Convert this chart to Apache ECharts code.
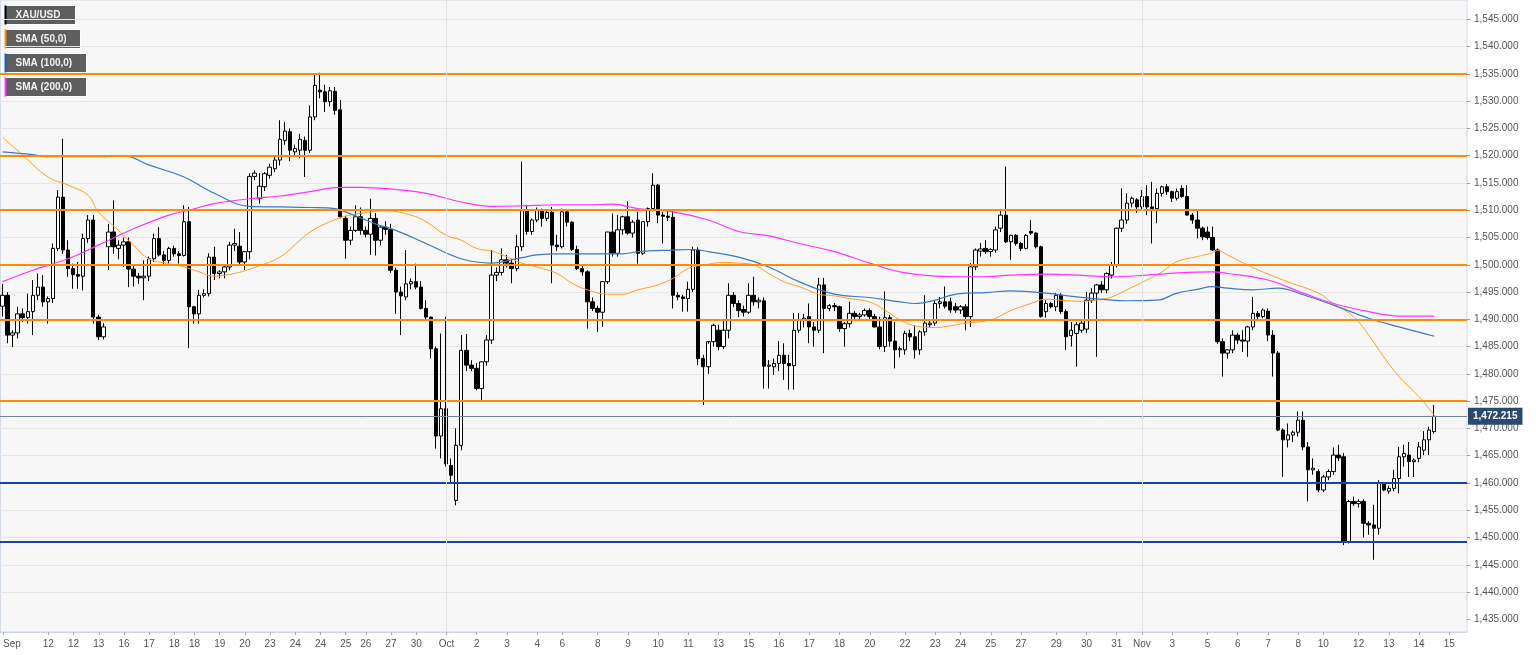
<!DOCTYPE html>
<html><head><meta charset="utf-8">
<script src="https://cdn.jsdelivr.net/npm/echarts@6/dist/echarts.min.js"></script>
<style>html,body{margin:0;padding:0;background:#fff;width:1536px;height:655px;overflow:hidden;position:relative}#c{position:absolute;left:0;top:-8px;width:1536px;height:663px}</style>
</head><body><div id="c"></div>
<script>
// ---------------- DATA ----------------
const openP = [1492.4,1494.4,1487.1,1487.5,1491.0,1490.3,1491.4,1494.4,1495.9,1493.2,1493.8,1503.0,1512.4,1502.7,1499.3,1498.2,1497.9,1504.8,1508.2,1490.4,1486.8,1503.3,1506.0,1503.0,1503.6,1504.2,1499.2,1497.9,1497.6,1497.9,1501.1,1504.8,1501.8,1500.8,1503.0,1502.0,1501.7,1507.9,1492.3,1491.0,1494.4,1494.7,1501.4,1498.4,1498.7,1499.6,1503.6,1503.4,1500.5,1502.4,1516.2,1512.1,1514.3,1516.4,1517.6,1519.2,1522.8,1524.4,1520.7,1521.0,1522.8,1521.0,1527.1,1532.0,1531.7,1529.9,1531.8,1528.4,1508.5,1504.5,1506.3,1508.8,1506.3,1505.6,1508.5,1504.5,1506.9,1506.5,1499.0,1495.0,1494.1,1496.5,1496.9,1495.9,1492.0,1490.4,1484.6,1468.6,1473.6,1463.2,1456.8,1466.9,1484.3,1481.6,1481.0,1477.3,1482.2,1486.2,1498.1,1498.6,1500.9,1500.3,1499.3,1503.3,1510.0,1506.1,1508.2,1510.0,1508.5,1509.6,1503.6,1503.3,1509.7,1507.8,1502.8,1499.3,1498.7,1493.2,1492.0,1491.3,1496.9,1506.0,1502.1,1506.4,1508.8,1505.8,1508.2,1502.1,1507.9,1510.3,1514.6,1509.1,1508.9,1508.7,1494.4,1494.1,1493.8,1495.5,1502.7,1482.8,1481.3,1485.9,1488.0,1485.0,1488.0,1494.4,1492.9,1491.8,1491.3,1494.4,1493.2,1493.4,1481.4,1481.3,1481.9,1483.4,1481.9,1481.5,1488.0,1489.9,1490.5,1488.6,1488.0,1496.3,1492.0,1492.5,1492.3,1488.3,1489.2,1491.1,1490.5,1490.8,1491.6,1490.5,1488.6,1485.0,1490.3,1486.0,1484.4,1484.4,1487.4,1486.8,1484.4,1487.7,1489.0,1489.3,1492.9,1493.2,1493.2,1492.3,1491.7,1492.3,1490.5,1499.6,1502.5,1503.0,1502.4,1502.7,1506.7,1509.1,1504.2,1505.4,1503.9,1503.0,1506.1,1505.8,1503.3,1491.4,1492.9,1492.3,1494.4,1491.4,1487.0,1487.4,1488.0,1488.2,1493.5,1494.8,1496.3,1495.4,1498.1,1499.9,1506.7,1508.2,1511.3,1511.9,1510.6,1512.5,1510.6,1510.3,1513.1,1514.3,1513.4,1512.2,1514.0,1512.5,1509.1,1508.2,1506.7,1506.0,1505.0,1502.7,1485.9,1483.8,1484.4,1487.1,1486.2,1486.0,1488.6,1491.1,1490.5,1491.5,1487.1,1483.8,1469.7,1467.9,1468.8,1469.3,1471.5,1466.6,1462.4,1462.1,1458.7,1461.1,1462.1,1465.1,1464.8,1449.2,1456.6,1456.2,1456.6,1452.6,1452.3,1451.7,1459.9,1458.5,1459.0,1460.8,1464.8,1465.1,1463.9,1464.5,1466.0,1467.9,1469.4];
const highP = [1496.5,1495.0,1488.0,1492.3,1492.0,1494.7,1497.2,1498.4,1498.1,1494.2,1503.9,1513.7,1523.1,1504.5,1500.2,1500.5,1505.7,1509.1,1509.1,1490.8,1489.3,1507.5,1511.8,1504.5,1505.0,1505.0,1500.0,1498.5,1500.8,1501.5,1505.7,1506.9,1502.5,1503.3,1503.5,1502.5,1510.9,1510.6,1492.5,1495.4,1495.5,1502.1,1503.3,1499.0,1500.0,1504.2,1506.6,1506.0,1502.5,1516.8,1517.3,1516.8,1517.0,1518.5,1520.0,1526.5,1526.2,1525.0,1522.0,1524.0,1523.5,1529.2,1535.1,1535.2,1533.0,1532.6,1532.6,1530.2,1509.0,1507.0,1510.9,1510.5,1507.0,1512.1,1509.5,1507.2,1508.0,1507.5,1499.5,1496.0,1502.7,1497.5,1500.2,1497.0,1493.5,1490.5,1485.0,1487.4,1490.5,1464.5,1470.0,1487.1,1487.3,1482.5,1482.0,1482.3,1487.1,1502.7,1499.5,1503.0,1501.8,1501.0,1505.5,1518.9,1511.0,1508.5,1510.5,1510.3,1510.2,1510.6,1505.5,1510.3,1510.0,1508.0,1503.5,1500.0,1499.0,1494.0,1492.5,1497.0,1506.0,1509.4,1509.1,1509.0,1511.6,1508.2,1509.7,1508.0,1510.5,1516.8,1514.8,1509.7,1510.0,1510.0,1495.0,1494.5,1496.9,1503.3,1503.2,1483.5,1485.5,1489.2,1489.0,1489.9,1496.6,1495.0,1493.5,1492.5,1496.6,1497.8,1494.0,1494.0,1482.5,1482.8,1486.0,1485.6,1483.5,1491.1,1491.1,1491.0,1492.9,1489.5,1497.6,1497.6,1492.8,1493.0,1492.5,1489.5,1493.2,1491.5,1491.2,1492.0,1492.0,1491.0,1490.5,1495.1,1490.8,1489.5,1485.0,1487.9,1488.1,1488.9,1488.0,1494.4,1490.0,1493.5,1494.1,1496.0,1494.0,1493.0,1492.6,1492.8,1500.3,1503.0,1504.0,1504.5,1503.0,1507.0,1510.0,1518.0,1505.5,1505.6,1504.2,1505.6,1508.2,1506.0,1503.5,1493.5,1493.2,1494.8,1494.8,1491.8,1489.5,1489.5,1489.9,1495.0,1495.7,1496.5,1497.0,1498.6,1500.5,1506.8,1514.0,1513.1,1512.5,1512.2,1513.7,1514.6,1515.2,1514.0,1514.5,1514.8,1513.6,1514.0,1514.6,1514.6,1509.5,1510.0,1507.0,1507.0,1507.0,1503.0,1486.5,1484.5,1488.0,1487.5,1488.0,1488.8,1494.1,1491.5,1492.0,1492.0,1488.0,1484.2,1470.0,1470.9,1469.6,1473.1,1473.1,1467.5,1464.5,1462.5,1461.5,1462.5,1466.5,1467.0,1465.5,1456.9,1457.5,1457.0,1457.0,1453.0,1456.0,1460.5,1460.0,1459.5,1462.4,1466.6,1467.0,1467.5,1464.5,1467.5,1469.5,1470.3,1474.3];
const lowP = [1490.5,1485.6,1484.9,1486.5,1489.5,1489.2,1487.1,1493.5,1492.3,1489.2,1493.0,1502.5,1502.0,1497.8,1495.6,1495.6,1495.3,1504.0,1489.2,1486.2,1486.3,1499.0,1502.0,1501.0,1499.6,1495.9,1496.0,1496.5,1493.5,1497.0,1500.5,1501.5,1500.0,1500.2,1501.5,1500.2,1501.5,1484.7,1489.2,1489.2,1494.0,1494.2,1497.2,1497.5,1497.5,1499.0,1502.5,1500.0,1499.0,1501.0,1515.5,1511.2,1513.5,1515.8,1517.0,1518.2,1522.0,1519.0,1519.8,1519.5,1516.1,1520.5,1526.5,1530.5,1528.0,1529.0,1527.5,1508.5,1501.1,1503.6,1506.0,1505.5,1505.0,1501.8,1501.7,1503.5,1505.5,1498.5,1491.0,1487.1,1493.5,1495.5,1495.5,1491.8,1489.8,1482.8,1466.3,1464.5,1463.0,1459.9,1455.9,1466.0,1480.5,1480.5,1477.0,1475.0,1481.5,1485.5,1497.0,1498.0,1499.5,1496.6,1498.8,1502.5,1505.5,1505.5,1507.8,1507.0,1508.0,1496.6,1502.5,1503.0,1507.0,1502.5,1499.0,1498.0,1488.3,1491.5,1487.7,1488.6,1496.5,1501.5,1501.5,1505.5,1505.5,1505.0,1500.2,1501.8,1507.0,1509.8,1507.6,1503.9,1508.0,1492.0,1493.5,1491.4,1491.4,1495.0,1481.6,1474.3,1480.0,1485.0,1484.3,1484.5,1486.5,1492.2,1490.4,1490.5,1491.0,1492.5,1492.0,1477.3,1477.3,1479.8,1480.5,1478.9,1477.1,1477.1,1487.5,1488.5,1485.6,1485.0,1487.5,1483.8,1491.5,1491.5,1487.7,1485.0,1488.5,1490.0,1490.0,1490.5,1490.0,1488.5,1484.5,1484.0,1485.0,1481.0,1483.0,1483.5,1486.0,1482.8,1483.5,1487.0,1488.5,1488.8,1492.0,1492.0,1491.2,1491.2,1491.0,1488.0,1488.6,1499.0,1501.5,1502.0,1501.5,1502.2,1506.0,1504.0,1500.9,1503.5,1502.5,1502.8,1505.5,1503.0,1490.3,1490.3,1492.0,1491.5,1491.0,1484.4,1485.0,1481.3,1487.5,1487.5,1493.0,1483.1,1494.8,1494.8,1497.5,1499.5,1506.0,1507.5,1510.5,1509.5,1510.0,1509.1,1503.9,1507.6,1512.5,1512.8,1511.5,1511.8,1512.3,1509.0,1507.5,1504.8,1504.5,1504.6,1502.5,1485.5,1479.5,1482.8,1483.8,1485.5,1484.0,1483.1,1488.0,1490.0,1490.2,1486.0,1479.5,1469.5,1461.1,1466.5,1467.5,1468.5,1466.0,1456.6,1461.5,1458.3,1458.3,1460.5,1461.5,1464.0,1448.6,1448.9,1455.8,1455.5,1450.0,1450.5,1445.9,1450.5,1458.5,1458.0,1458.5,1458.1,1463.0,1461.1,1461.1,1463.8,1465.1,1465.1,1469.0];
const closeP = [1494.4,1487.1,1487.5,1491.0,1490.3,1491.4,1494.4,1495.9,1493.2,1493.8,1503.0,1512.4,1502.7,1499.3,1498.2,1497.9,1504.8,1508.2,1490.4,1486.8,1488.6,1506.0,1503.3,1503.6,1504.2,1499.2,1497.9,1497.6,1497.9,1501.1,1504.8,1501.8,1500.8,1503.0,1502.0,1501.7,1507.9,1492.3,1491.0,1494.4,1494.7,1501.4,1498.4,1498.7,1499.6,1503.6,1503.9,1500.5,1502.4,1516.2,1516.8,1514.4,1516.7,1517.9,1519.2,1523.0,1524.5,1521.0,1521.3,1523.0,1521.0,1527.1,1532.9,1531.7,1529.9,1531.9,1528.3,1508.8,1504.5,1506.3,1508.8,1506.3,1505.6,1508.5,1504.5,1506.9,1506.5,1499.0,1495.0,1494.3,1496.5,1496.9,1495.9,1492.0,1490.4,1484.6,1468.6,1473.6,1463.5,1461.4,1466.9,1484.3,1481.6,1481.0,1477.3,1482.2,1486.2,1498.1,1498.6,1500.9,1500.3,1499.3,1503.3,1510.0,1506.1,1508.2,1510.0,1508.5,1509.6,1503.6,1503.3,1509.7,1507.8,1502.8,1499.3,1498.7,1493.2,1492.0,1491.3,1496.9,1506.0,1502.1,1506.4,1508.8,1505.8,1507.8,1502.1,1507.9,1510.3,1514.6,1509.1,1508.9,1508.7,1494.4,1494.1,1493.8,1495.5,1502.7,1482.8,1481.3,1485.9,1488.9,1485.0,1488.0,1494.4,1492.9,1491.6,1491.3,1494.4,1493.2,1493.5,1481.4,1481.6,1481.9,1483.4,1481.9,1481.5,1488.0,1489.9,1490.2,1488.6,1488.0,1496.3,1492.0,1492.5,1492.3,1488.3,1489.2,1491.1,1490.5,1490.8,1491.6,1490.5,1488.6,1485.0,1490.3,1486.0,1484.4,1484.6,1487.4,1486.8,1484.4,1487.7,1489.3,1489.3,1492.9,1493.2,1492.4,1491.7,1491.7,1492.3,1490.5,1499.6,1502.7,1502.9,1502.4,1502.8,1506.4,1509.1,1504.2,1505.4,1503.9,1503.0,1505.4,1505.8,1503.3,1490.5,1492.9,1492.3,1494.4,1491.4,1486.8,1488.0,1489.0,1489.3,1493.5,1494.8,1496.3,1495.4,1498.4,1499.9,1506.7,1508.2,1511.3,1512.2,1510.6,1512.5,1510.6,1510.3,1513.1,1514.3,1513.4,1512.2,1513.4,1512.5,1509.1,1508.2,1506.7,1505.1,1505.0,1502.7,1485.9,1483.8,1484.4,1487.1,1486.2,1486.0,1488.6,1491.1,1490.5,1491.7,1487.1,1483.8,1469.7,1467.9,1468.8,1469.3,1471.5,1466.6,1462.4,1462.7,1458.7,1461.1,1462.1,1465.1,1464.6,1449.2,1456.6,1456.2,1456.6,1452.6,1452.3,1451.7,1459.9,1458.7,1459.0,1460.8,1464.8,1465.4,1463.9,1464.2,1466.6,1467.9,1469.7,1472.2];

// moving averages: [candle index, value]
const sma50 = [[0,1523.4],[4,1520.1],[9,1516.1],[13,1514.6],[17,1512.7],[19,1509.7],[23,1506.3],[26,1503.6],[29,1501.1],[33,1500.2],[36,1499.6],[39,1498.7],[42,1497.9],[46,1498.4],[49,1499.2],[55,1501.4],[59,1504.5],[61,1506.0],[64,1507.5],[68,1508.9],[71,1509.4],[76,1509.9],[81,1509.1],[84,1507.9],[88,1505.4],[91,1504.5],[94,1503.0],[97,1502.5],[100,1501.5],[103,1500.3],[106,1499.6],[110,1498.4],[113,1496.6],[116,1495.4],[120,1494.6],[123,1494.6],[126,1495.4],[130,1496.3],[133,1497.5],[136,1499.3],[140,1500.1],[143,1500.4],[146,1500.3],[149,1500.0],[152,1498.4],[155,1496.9],[158,1496.0],[162,1494.6],[165,1494.3],[168,1493.8],[172,1493.2],[175,1491.7],[178,1489.9],[181,1488.8],[185,1488.5],[188,1488.8],[191,1489.3],[195,1489.7],[197,1490.2],[200,1491.6],[204,1492.9],[207,1493.7],[210,1493.5],[214,1493.3],[217,1493.5],[220,1494.1],[223,1495.4],[227,1497.2],[230,1498.7],[233,1500.6],[237,1501.5],[240,1502.2],[241,1502.6],[243,1501.8],[248,1499.5],[254,1497.2],[261,1494.8],[264,1492.9],[268,1490.5],[271,1487.1],[274,1483.1],[277,1479.5],[281,1475.8],[284,1472.4]];
const sma100 = [[0,1520.7],[6,1520.2],[9,1519.8],[13,1519.8],[19,1519.8],[24,1520.0],[29,1518.3],[36,1516.1],[42,1513.1],[49,1510.7],[55,1510.6],[61,1510.5],[66,1510.3],[68,1509.7],[74,1507.5],[78,1506.3],[84,1503.9],[91,1501.1],[97,1500.3],[103,1501.3],[106,1501.8],[110,1502.0],[116,1502.0],[123,1502.0],[126,1502.4],[133,1502.7],[137,1502.8],[140,1502.4],[146,1501.4],[152,1499.6],[158,1496.9],[165,1494.6],[172,1494.0],[178,1493.2],[181,1492.9],[185,1493.5],[188,1494.4],[191,1494.8],[195,1494.9],[200,1495.2],[207,1494.8],[213,1494.1],[220,1493.5],[223,1493.4],[229,1493.5],[233,1494.8],[237,1495.5],[240,1496.0],[243,1495.7],[248,1495.4],[253,1495.7],[258,1494.5],[264,1492.6],[271,1490.2],[277,1488.6],[284,1486.9]];
const sma200 = [[0,1496.9],[6,1499.0],[13,1501.1],[19,1503.6],[26,1506.6],[33,1509.1],[37,1510.0],[42,1511.2],[49,1512.1],[55,1512.6],[61,1513.4],[67,1514.2],[71,1514.2],[78,1513.8],[84,1513.1],[91,1511.5],[97,1510.7],[103,1510.8],[110,1511.0],[116,1511.0],[121,1511.1],[126,1510.3],[133,1509.7],[140,1508.2],[146,1506.1],[152,1505.3],[158,1503.9],[165,1502.4],[172,1500.3],[178,1498.7],[185,1497.9],[191,1497.8],[195,1497.8],[200,1498.1],[207,1498.3],[213,1498.1],[220,1497.8],[227,1498.1],[233,1498.5],[240,1498.7],[243,1498.4],[251,1497.2],[258,1494.8],[264,1492.9],[271,1491.4],[277,1490.6],[284,1490.6]];

const orangeLevels = [1535, 1520, 1510, 1500, 1490, 1475];
const blueLevels = [1460, 1449.3];
const lastPrice = 1472.215;

const xTickIdx = [0,9,14,19,24,29,34,38,43,48,53,58,63,68,72,77,82,88,94,100,106,111,118,124,130,136,142,148,154,160,166,172,179,185,190,196,202,209,215,221,226,232,239,245,251,257,262,269,275,281,287];
const xTickText = ['Sep','12','12','13','16','17','18','18','19','20','23','24','24','25','26','27','30','Oct','2','3','4','6','8','9','10','11','13','15','16','17','18','20','22','23','24','25','27','29','30','31','Nov','3','5','6','7','8','10','12','13','14','15'];
const monthStarts = [88, 226];

const legendNames = ['XAU/USD', 'SMA (50,0)', 'SMA (100,0)', 'SMA (200,0)'];
const legendColors = ['#000000', '#ff8c00', '#1f5fc4', '#ff33ff'];

// ---------------- CHART ----------------
// The chart div is shifted up by 8px (see CSS) so the value grid can start above the page edge.
const SHIFT = 8;
const SLOTS = 291; // candle slots incl. empty space on the right
const categories = [];
{ let t = Date.UTC(2019, 8, 10, 8); while (categories.length < SLOTS) { const d = new Date(t); const wd = d.getUTCDay(); if (wd !== 0 && wd !== 6) categories.push(d.toISOString().slice(0, 16).replace('T', ' ')); t += 4 * 3600e3; } }
const labelMap = {}; xTickIdx.forEach((k, j) => labelMap[k] = xTickText[j]);
const candles = openP.map((o, i) => [o, closeP[i], lowP[i], highP[i]]);
const FONT = "'Liberation Sans', Arial, sans-serif";
const fmt = v => v.toLocaleString('en-US', {minimumFractionDigits: 3, maximumFractionDigits: 3});

const splitColors = []; for (let v = 1430; v <= 1550; v += 5) splitColors.push(v < 1435 ? 'rgba(0,0,0,0)' : '#e6e6e6');

const chart = echarts.init(document.getElementById('c'), null, {renderer: 'canvas'});
chart.setOption({
  animation: false,
  backgroundColor: '#ffffff',
  textStyle: {fontFamily: FONT},
  grid: [
    {left: 0, width: 1467, top: SHIFT - 7.97, height: 654.54, z: 1},
    {left: 0, width: 1467, top: SHIFT, height: 632, show: true, backgroundColor: '#f7f7f7', borderColor: '#d3dbe7', borderWidth: 1, z: -5}
  ],
  xAxis: [
    {type: 'category', gridIndex: 0, data: categories, boundaryGap: true, show: false},
    {type: 'category', gridIndex: 1, data: categories, boundaryGap: true,
     axisLine: {show: true, lineStyle: {color: '#cdd6e3', width: 1}},
     axisTick: {show: true, alignWithLabel: true, length: 3, interval: (i) => labelMap[i] !== undefined, lineStyle: {color: '#aaaaaa'}},
     axisLabel: {show: true, interval: (i) => labelMap[i] !== undefined, formatter: (v, i) => labelMap[i] || '', color: '#555555', fontSize: 10, fontFamily: FONT, margin: 7, alignMinLabel: 'left'},
     splitLine: {show: false}}
  ],
  yAxis: [
    {type: 'value', gridIndex: 0, position: 'right', min: 1430, max: 1550, interval: 5, scale: true,
     axisLine: {show: false},
     axisTick: {show: true, length: 3, lineStyle: {color: '#999999'}},
     axisLabel: {show: true, formatter: fmt, color: '#555555', fontSize: 10, fontFamily: FONT, margin: 7, showMinLabel: false, showMaxLabel: false},
     splitLine: {show: true, showMinLine: false, lineStyle: {color: splitColors, width: 1}}},
    {type: 'value', gridIndex: 1, min: 0, max: 1, show: false}
  ],
  series: [
    {type: 'candlestick', name: 'XAU/USD', xAxisIndex: 0, yAxisIndex: 0, data: candles, barWidth: '78%',
     itemStyle: {color: '#ffffff', color0: '#000000', borderColor: '#000000', borderColor0: '#000000', borderWidth: 1},
     markLine: {silent: true, symbol: ['none', 'none'], animation: false,
       data: orangeLevels.map(v => ({yAxis: v, lineStyle: {color: '#ff8c00', width: 2, type: 'solid'}, label: {show: false}}))
         .concat(blueLevels.map(v => ({yAxis: v, lineStyle: {color: '#1747a6', width: 2, type: 'solid'}, label: {show: false}})))
         .concat([{yAxis: lastPrice, lineStyle: {color: '#70829c', width: 1, type: 'solid'},
           label: {show: true, position: 'end', distance: 1, formatter: fmt(lastPrice), color: '#ffffff', fontWeight: 'bold', fontSize: 10, fontFamily: FONT, backgroundColor: '#2b4870', padding: [4, 5, 3, 5]}}])
     }},
    {type: 'line', name: 'SMA (50,0)', xAxisIndex: 0, yAxisIndex: 0, data: sma50, smooth: 0.4, showSymbol: false, lineStyle: {color: '#ffa024', width: 1}, z: 3},
    {type: 'line', name: 'SMA (100,0)', xAxisIndex: 0, yAxisIndex: 0, data: sma100, smooth: 0.4, showSymbol: false, lineStyle: {color: '#3d78c6', width: 1.2}, z: 3},
    {type: 'line', name: 'SMA (200,0)', xAxisIndex: 0, yAxisIndex: 0, data: sma200, smooth: 0.4, showSymbol: false, lineStyle: {color: '#ff33ff', width: 1.2}, z: 3},
    {type: 'line', xAxisIndex: 1, yAxisIndex: 1, data: [[0, 0.5]], showSymbol: false, lineStyle: {opacity: 0}, silent: true, z: 0,
     markLine: {silent: true, symbol: ['none', 'none'], label: {show: false}, lineStyle: {color: '#e2e2e2', width: 1, type: 'solid'},
       data: monthStarts.map(k => ({xAxis: k}))}}
  ],
  graphic: legendNames.map((name, j) => {
    const w = [71, 76, 82, 82][j];
    return {type: 'group', left: 4, top: SHIFT + 5 + j * 24, z: 100, children: [
      {type: 'rect', shape: {x: 0, y: 0, width: w, height: 19}, style: {fill: '#5e5e5e', stroke: '#ffffff', lineWidth: 1}},
      {type: 'rect', shape: {x: 0, y: 0, width: 2, height: 19}, style: {fill: legendColors[j]}},
      {type: 'text', x: 11, y: 10, style: {text: name, fill: '#f2f2f2', font: 'bold 10px ' + FONT, textVerticalAlign: 'middle', verticalAlign: 'middle'}}
    ]};
  })
});
</script></body></html>
